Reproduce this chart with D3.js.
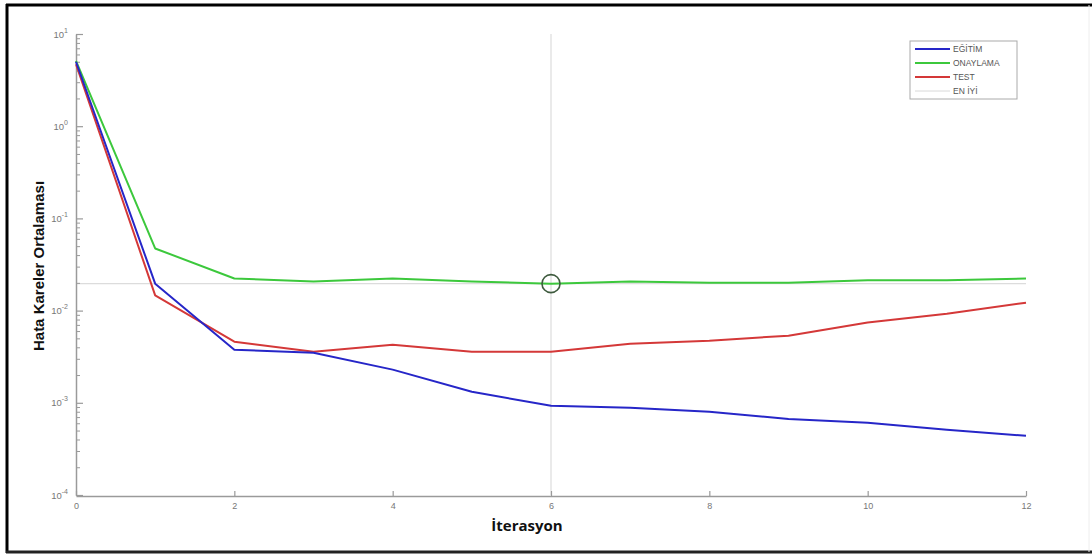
<!DOCTYPE html>
<html><head><meta charset="utf-8">
<script src="https://cdn.jsdelivr.net/npm/d3@7"></script>
<style>
html,body{margin:0;padding:0;background:#fff;}
svg{display:block;}
</style>
</head><body>
<svg id="chart" width="1092" height="554"></svg>
<script>
const iterations = [0,1,2,3,4,5,6,7,8,9,10,11,12];
const egitim   = [5.0, 0.0196, 0.00377, 0.00349, 0.00229, 0.00132, 0.000927, 0.000883, 0.000798, 0.000669, 0.000607, 0.000509, 0.000438];
const onaylama = [5.1, 0.0472, 0.0223, 0.0207, 0.0223, 0.0207, 0.0196, 0.0207, 0.0201, 0.0201, 0.0214, 0.0214, 0.0223];
const test     = [4.7, 0.0146, 0.0046, 0.00358, 0.00427, 0.00358, 0.00358, 0.00438, 0.00472, 0.00535, 0.00741, 0.00927, 0.0122];
const bestEpoch = 6;
const bestValue = 0.0196;
const xTicks = [0,2,4,6,8,10,12];
const yMajorExp = [-4,-3,-2,-1,0,1];
const seriesNames = ["EĞİTİM","ONAYLAMA","TEST","EN İYİ"];
const seriesColors = ["#2626c8","#3cc83c","#d43838","#d8d8d8"];
const xLabel = "İterasyon";
const yLabel = "Hata Kareler Ortalaması";

const svg = d3.select("#chart");

// outer frame
svg.append("line").attr("x1",7).attr("x2",7).attr("y1",4).attr("y2",553).attr("stroke","#000").attr("stroke-width",3);
svg.append("line").attr("x1",6).attr("x2",1092).attr("y1",5).attr("y2",5).attr("stroke","#000").attr("stroke-width",3);
svg.append("line").attr("x1",6).attr("x2",1092).attr("y1",552).attr("y2",552).attr("stroke","#222").attr("stroke-width",3);
svg.append("line").attr("x1",1089).attr("x2",1089).attr("y1",5).attr("y2",552).attr("stroke","#eee").attr("stroke-width",1);

const x = d3.scaleLinear().domain([0,12]).range([76,1026]);
const y = d3.scaleLog().domain([1e-4,10]).range([495,34]);

const axisColor = "#9a9a9a";
const labelColor = "#777";

// best lines
svg.append("line").attr("x1",x(bestEpoch)).attr("x2",x(bestEpoch)).attr("y1",y(10)).attr("y2",y(1e-4))
  .attr("stroke","#dcdcdc").attr("stroke-width",1.2);
svg.append("line").attr("x1",x(0)).attr("x2",x(12)).attr("y1",y(bestValue)).attr("y2",y(bestValue))
  .attr("stroke","#dcdcdc").attr("stroke-width",1.2);

// Y axis
const majorVals = yMajorExp.map(e => Math.pow(10,e));
const minorVals = [];
yMajorExp.slice(0,-1).forEach(e => { for (let m=2;m<=9;m++) minorVals.push(m*Math.pow(10,e)); });

const yAxisMinor = svg.append("g").attr("transform",`translate(${x(0)},0)`)
  .call(d3.axisLeft(y).tickValues(minorVals).tickSize(-4).tickSizeOuter(0).tickFormat(""));
yAxisMinor.select(".domain").remove();
yAxisMinor.selectAll("line").attr("stroke",axisColor).attr("stroke-width",1);

const yAxis = svg.append("g").attr("transform",`translate(${x(0)},0)`)
  .call(d3.axisLeft(y).tickValues(majorVals).tickSize(-7).tickSizeOuter(0).tickPadding(8).tickFormat(() => ""));
yAxis.select(".domain").attr("stroke",axisColor).attr("stroke-width",1.5);
yAxis.selectAll("line").attr("stroke",axisColor).attr("stroke-width",1.2);
yAxis.selectAll(".tick text").each(function(d){
  const e = Math.round(Math.log10(d));
  const t = d3.select(this).attr("fill",labelColor).attr("font-family","Liberation Sans, Arial, sans-serif").attr("font-size",9.5);
  t.append("tspan").text("10");
  t.append("tspan").attr("dy",-5).attr("font-size",7).text(String(e));
});

// X axis
const xAxis = svg.append("g").attr("transform",`translate(0,${y(1e-4)+1})`)
  .call(d3.axisBottom(x).tickValues(xTicks).tickSize(-5).tickSizeOuter(0).tickPadding(7).tickFormat(d3.format("d")));
xAxis.select(".domain").attr("stroke",axisColor).attr("stroke-width",1.5);
xAxis.selectAll("line").attr("stroke",axisColor).attr("stroke-width",1.2);
xAxis.selectAll("text").attr("fill",labelColor).attr("font-family","Liberation Sans, Arial, sans-serif").attr("font-size",9);

// series
const line = d3.line().x((d,i)=>x(iterations[i])).y(d=>y(d));
[[test,2],[onaylama,1],[egitim,0]].forEach(([arr,ci])=>{
  svg.append("path").datum(arr).attr("d",line).attr("fill","none")
    .attr("stroke",seriesColors[ci]).attr("stroke-width",2).attr("stroke-linejoin","round");
});

// best circle
svg.append("circle").attr("cx",x(bestEpoch)).attr("cy",y(bestValue)).attr("r",9)
  .attr("fill","none").attr("stroke","#3e5a3e").attr("stroke-width",1.6);

// labels
svg.append("text").attr("x",527).attr("y",531).attr("text-anchor","middle")
  .attr("font-family","Open Sans, Liberation Sans, sans-serif").attr("font-weight","bold").attr("font-size",15).attr("fill","#111")
  .text(xLabel);
svg.append("text").attr("transform",`translate(44,266) rotate(-90)`).attr("text-anchor","middle")
  .attr("font-family","Liberation Sans, Arial, sans-serif").attr("font-weight","bold").attr("font-size",15).attr("fill","#111")
  .text(yLabel);

// legend
const lg = svg.append("g");
lg.append("rect").attr("x",910).attr("y",41).attr("width",107).attr("height",58)
  .attr("fill","#fff").attr("stroke","#aaa").attr("stroke-width",1);
seriesNames.forEach((n,i)=>{
  const yy = 49 + i*14;
  lg.append("line").attr("x1",915).attr("x2",950).attr("y1",yy).attr("y2",yy)
    .attr("stroke",seriesColors[i]).attr("stroke-width", i<3 ? 2 : 1);
  lg.append("text").attr("x",953).attr("y",yy+3).attr("font-family","Liberation Sans, Arial, sans-serif")
    .attr("font-size",8.5).attr("fill","#555").text(n);
});
</script>
</body></html>
